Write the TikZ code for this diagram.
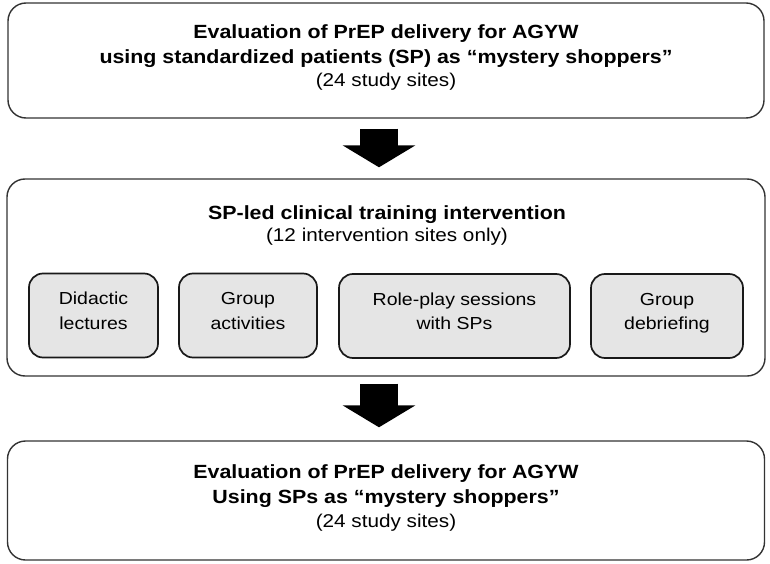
\documentclass[tikz,border=0pt]{standalone}
\usepackage{fontspec}
\setmainfont{Liberation Sans}[FakeStretch=1.12]
\usetikzlibrary{arrows.meta}

\tikzset{
  bigbox/.style={draw=black!80, line width=1.4pt, rounded corners=18pt, fill=white,
    align=center, text height=57pt, text depth=4pt,
    font=\bfseries\fontsize{19.1}{25.3}\selectfont},
  subbox/.style={draw=black!90, line width=1.7pt, rounded corners=14pt, fill=black!10,
    align=center, minimum height=84pt, text height=31pt, text depth=4pt,
    font=\fontsize{17.4}{24.5}\selectfont},
  bigarrow/.style={line width=38pt, -{Triangle[width=72pt,length=22pt]}},
}

\begin{document}
\begin{tikzpicture}[x=1pt,y=-1pt]
\fill[white, use as bounding box] (0,0) rectangle (770,564);

\node[bigbox, minimum width=756pt, minimum height=115pt] (eval1) at (386,60.5)
  {Evaluation of PrEP delivery for AGYW\\using standardized patients (SP) as “mystery shoppers”\\[-2pt]\mdseries\fontsize{18.5}{20}\selectfont (24 study sites)};

\node[draw=black!80, line width=1.4pt, rounded corners=18pt, minimum width=758pt, minimum height=197pt] (train) at (386,277.5) {};
\node[align=center, anchor=base, font=\bfseries\fontsize{19.1}{22.7}\selectfont] (traintitle) at (387,241.7)
  {SP-led clinical training intervention\\\mdseries\fontsize{18.5}{20}\selectfont (12 intervention sites only)};

\node[subbox, minimum width=129pt] (lectures) at (93.5,315.5) {Didactic\\lectures};
\node[subbox, minimum width=138pt] (activities) at (248,315.5) {Group\\activities};
\node[subbox, minimum width=231pt] (roleplay) at (454.5,316) {Role-play sessions\\with SPs};
\node[subbox, minimum width=152pt] (debrief) at (667,316) {Group\\debriefing};

\node[bigbox, minimum width=757pt, minimum height=119pt] (eval2) at (386,500.5)
  {Evaluation of PrEP delivery for AGYW\\Using SPs as “mystery shoppers”\\[-2pt]\mdseries\fontsize{18.5}{20}\selectfont (24 study sites)};

\draw[bigarrow, shorten <=10pt, shorten >=11pt] ([xshift=-7pt]eval1.south) -- ([xshift=-7pt]train.north);
\draw[bigarrow, shorten <=7pt, shorten >=13pt] ([xshift=-7pt]train.south) -- ([xshift=-7pt]eval2.north);
\end{tikzpicture}
\end{document}
